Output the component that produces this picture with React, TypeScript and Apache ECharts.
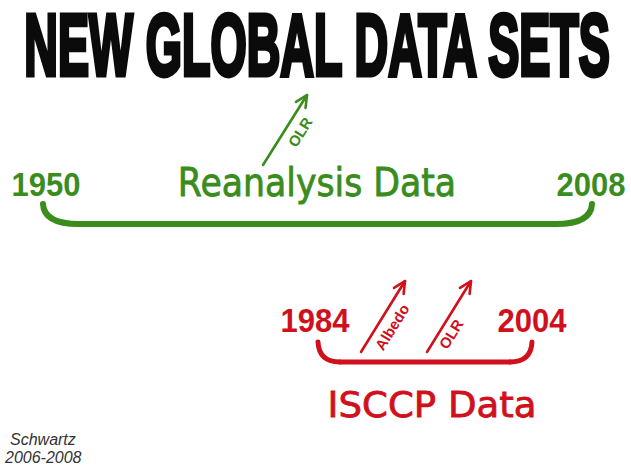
import React, { useEffect, useRef } from "react";
import * as echarts from "echarts";

// ---- content ----
const titleText = "NEW GLOBAL DATA SETS";
const datasetNames = ["Reanalysis Data", "ISCCP Data"];
const startYears = ["1950", "1984"];
const endYears = ["2008", "2004"];
const arrowLabels = [["OLR"], ["Albedo", "OLR"]];
const creditLines = ["Schwartz", "2006-2008"];

// ---- styling / layout ----
const COLORS = ["#3a8c1c", "#d0101c"];
const LAYOUT = [
  {
    nameCenter: [317, 183], nameSize: 39, nameScale: 0.89,
    startCenter: [46, 185], endCenter: [591, 185], yearSize: 33, yearScale: 0.94,
    brace: { x1: 43, x2: 592, top: 204, bottom: 224, r: 36 }, braceWidth: 6,
    arrows: [{ tail: [263, 165], tip: [307, 95], label: [300, 132] }],
    labelSize: 15,
  },
  {
    nameCenter: [432, 405], nameSize: 36, nameScale: 1.03,
    startCenter: [315, 321], endCenter: [532, 321], yearSize: 33, yearScale: 0.94,
    brace: { x1: 318, x2: 532, top: 342, bottom: 362, r: 22 }, braceWidth: 5,
    arrows: [
      { tail: [361, 352], tip: [405, 281], label: [392, 327] },
      { tail: [427, 352], tip: [471, 281], label: [451, 334] },
    ],
    labelSize: 15,
  },
];
const CREDIT_POS = [[10, 439], [5, 457]];

function buildElements() {
  const els: any[] = [];
  els.push({
    type: "text",
    x: 317,
    y: 45,
    scaleX: 1.035,
    scaleY: 1.93,
    style: {
      text: titleText,
      fontFamily: "Liberation Sans",
      fontWeight: "bold",
      fontSize: 45,
      lineHeight: 36,
      fill: "#0b0b0b",
      stroke: "#0b0b0b",
      lineWidth: 2.5,
      align: "center",
      verticalAlign: "middle",
    },
  });

  datasetNames.forEach((name, i) => {
    const L = LAYOUT[i];
    const color = COLORS[i];
    els.push({
      type: "text",
      x: L.nameCenter[0],
      y: L.nameCenter[1],
      scaleX: L.nameScale,
      style: {
        text: name,
        fontFamily: "DejaVu Sans",
        fontSize: L.nameSize,
        fill: color,
        stroke: color,
        lineWidth: 0.8,
        align: "center",
        verticalAlign: "middle",
      },
    });
    [[startYears[i], L.startCenter], [endYears[i], L.endCenter]].forEach(([t, c]: any) => {
      els.push({
        type: "text",
        x: c[0],
        y: c[1],
        scaleX: L.yearScale,
        style: {
          text: t,
          fontFamily: "Liberation Sans",
          fontWeight: "bold",
          fontSize: L.yearSize,
          fill: color,
          align: "center",
          verticalAlign: "middle",
        },
      });
    });
    const b = L.brace;
    const ls = { stroke: color, lineWidth: L.braceWidth, lineCap: "round", fill: "none" };
    els.push({
      type: "bezierCurve",
      shape: { x1: b.x1, y1: b.top, cpx1: b.x1 + 1, cpy1: b.bottom, x2: b.x1 + b.r, y2: b.bottom },
      style: ls,
    });
    els.push({
      type: "line",
      shape: { x1: b.x1 + b.r, y1: b.bottom, x2: b.x2 - b.r, y2: b.bottom },
      style: ls,
    });
    els.push({
      type: "bezierCurve",
      shape: { x1: b.x2 - b.r, y1: b.bottom, cpx1: b.x2 - 1, cpy1: b.bottom, x2: b.x2, y2: b.top },
      style: ls,
    });

    arrowLabels[i].forEach((lab, k) => {
      const a = L.arrows[k];
      const dx = a.tip[0] - a.tail[0];
      const dy = a.tip[1] - a.tail[1];
      const ang = Math.atan2(dy, dx);
      const as = { stroke: color, lineWidth: 2.6, lineCap: "round", lineJoin: "round", fill: "none" };
      els.push({
        type: "line",
        shape: { x1: a.tail[0], y1: a.tail[1], x2: a.tip[0], y2: a.tip[1] },
        style: as,
      });
      const hl = 13;
      const th = 0.45;
      els.push({
        type: "polyline",
        shape: {
          points: [
            [a.tip[0] - hl * Math.cos(ang - th), a.tip[1] - hl * Math.sin(ang - th)],
            [a.tip[0], a.tip[1]],
            [a.tip[0] - hl * Math.cos(ang + th), a.tip[1] - hl * Math.sin(ang + th)],
          ],
        },
        style: as,
      });
      els.push({
        type: "text",
        x: a.label[0],
        y: a.label[1],
        rotation: -ang,
        style: {
          text: lab,
          fontFamily: "Liberation Sans",
          fontWeight: "bold",
          fontSize: L.labelSize,
          fill: color,
          align: "center",
          verticalAlign: "middle",
        },
      });
    });
  });

  creditLines.forEach((t, i) => {
    els.push({
      type: "text",
      x: CREDIT_POS[i][0],
      y: CREDIT_POS[i][1],
      style: {
        text: t,
        fontFamily: "Liberation Sans",
        fontStyle: "italic",
        fontSize: 16,
        fill: "#333333",
        align: "left",
        verticalAlign: "middle",
      },
    });
  });
  return els;
}

export default function App() {
  const ref = useRef<HTMLDivElement>(null);
  useEffect(() => {
    document.body.style.margin = "0";
    const chart = echarts.init(ref.current!, null, { renderer: "svg" });
    chart.setOption({
      animation: false,
      backgroundColor: "#ffffff",
      graphic: { elements: buildElements() },
    });
    return () => chart.dispose();
  }, []);
  return <div ref={ref} style={{ width: 631, height: 469 }} />;
}
